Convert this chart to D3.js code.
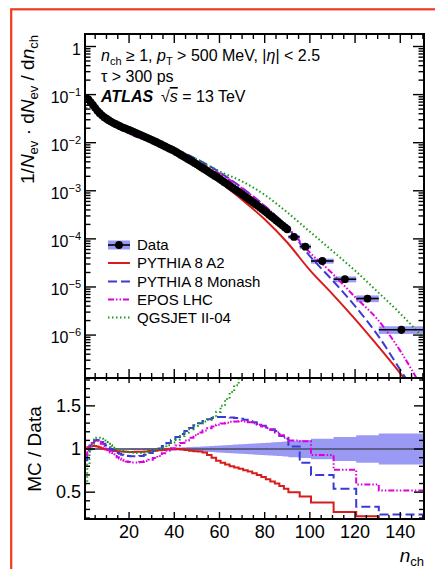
<!DOCTYPE html>
<html><head><meta charset="utf-8">
<script src="https://cdn.jsdelivr.net/npm/d3@7/dist/d3.min.js"></script>
<style>
html,body{margin:0;padding:0;background:#fff;}
svg{display:block;font-family:"Liberation Sans",Arial,Helvetica,sans-serif;}
text{white-space:pre;}
</style></head><body>
<svg id="chart" width="435" height="569"></svg>
<script>
// ---------------- data ----------------
// data binning: unit bins up to 90, then wide bins
const dataEdges = [0.5,1.5,2.5,3.5,4.5,5.5,6.5,7.5,8.5,9.5,10.5,11.5,12.5,13.5,14.5,15.5,16.5,17.5,18.5,19.5,20.5,
  21.5,22.5,23.5,24.5,25.5,26.5,27.5,28.5,29.5,30.5,31.5,32.5,33.5,34.5,35.5,36.5,37.5,38.5,39.5,40.5,
  41.5,42.5,43.5,44.5,45.5,46.5,47.5,48.5,49.5,50.5,51.5,52.5,53.5,54.5,55.5,56.5,57.5,58.5,59.5,60.5,
  61.5,62.5,63.5,64.5,65.5,66.5,67.5,68.5,69.5,70.5,71.5,72.5,73.5,74.5,75.5,76.5,77.5,78.5,79.5,80.5,
  81.5,82.5,83.5,84.5,85.5,86.5,87.5,88.5,89.5,90.5,95.5,100.5,110.5,120.5,130.5,150.5];
const dataValues = [0.085,0.079,0.070,0.061,0.053,0.046,0.041,0.037,0.034,0.0315,0.0293,0.0275,0.0259,0.0245,0.0232,0.0220,0.0209,0.0200,0.0192,0.0184,
  0.01755,0.01675,0.01597,0.01524,0.01454,0.01387,0.01323,0.01262,0.01204,0.01148,
  0.01089,0.01033,0.00980,0.00929,0.00881,0.00836,0.00793,0.00752,0.00713,0.00676,
  0.00634,0.00594,0.00557,0.00522,0.00490,0.00459,0.00431,0.00404,0.00378,0.00355,
  0.00331,0.00309,0.00288,0.00269,0.00251,0.00234,0.00219,0.00204,0.00191,0.00178,
  0.00165,0.00153,0.00143,0.00132,0.00123,0.00114,0.00106,9.86e-4,9.16e-4,8.51e-4,
  7.85e-4,7.24e-4,6.68e-4,6.17e-4,5.69e-4,5.25e-4,4.84e-4,4.47e-4,4.12e-4,3.80e-4,
  3.48e-4,3.19e-4,2.92e-4,2.68e-4,2.45e-4,2.25e-4,2.06e-4,1.89e-4,1.73e-4,1.585e-4,
  1.10e-4,6.9e-5,3.47e-5,1.45e-5,5.75e-6,1.29e-6];
const dataRelErr = [0.008,0.008,0.008,0.008,0.008,0.008,0.008,0.008,0.008,0.008,0.008,0.008,0.008,0.008,0.008,0.008,0.008,0.008,0.008,0.008,
  0.010,0.010,0.010,0.010,0.010,0.010,0.011,0.011,0.011,0.011,
  0.012,0.012,0.013,0.013,0.014,0.014,0.015,0.015,0.016,0.016,
  0.017,0.018,0.019,0.020,0.021,0.022,0.023,0.024,0.025,0.026,
  0.027,0.029,0.030,0.032,0.033,0.035,0.036,0.038,0.039,0.041,
  0.042,0.044,0.045,0.047,0.048,0.050,0.051,0.053,0.054,0.056,
  0.057,0.059,0.060,0.062,0.063,0.065,0.066,0.068,0.069,0.071,
  0.072,0.074,0.075,0.077,0.078,0.080,0.082,0.084,0.086,0.088,
  0.095,0.105,0.12,0.14,0.16,0.18];
// ratio binning (MC / Data histograms)
const ratioEdges = [0.5,1.5,2.5,3.5,4.5,5.5,6.5,7.5,8.5,9.5,10.5,11.5,12.5,13.5,14.5,15.5,16.5,17.5,18.5,19.5,20.5,
  22.5,24.5,26.5,28.5,30.5,32.5,34.5,36.5,38.5,40.5,42.5,44.5,46.5,48.5,50.5,52.5,54.5,56.5,58.5,60.5,
  62.5,64.5,66.5,68.5,70.5,72.5,74.5,76.5,78.5,80.5,82.5,84.5,86.5,88.5,90.5,95.5,100.5,110.5,120.5,130.5,150.5];
const ratioA2 = [1.00,1.02,1.03,1.035,1.035,1.03,1.02,1.01,1.00,0.995,0.99,0.985,0.98,0.977,0.975,0.972,0.97,0.968,0.967,0.966,
  0.966,0.967,0.969,0.972,0.976,0.98,0.985,0.99,0.995,0.998,1.0,0.998,0.99,0.98,0.975,
  0.97,0.96,0.93,0.90,0.865,0.84,0.82,0.80,0.785,0.77,0.755,0.74,0.72,0.70,0.675,
  0.65,0.625,0.60,0.57,0.54,0.50,0.45,0.38,0.27,0.22,0.19];
const ratioMonash = [0.87,0.97,1.04,1.08,1.10,1.105,1.10,1.08,1.06,1.04,1.02,1.00,0.985,0.97,0.955,0.945,0.935,0.928,0.922,0.918,
  0.915,0.915,0.92,0.935,0.955,0.98,1.005,1.035,1.07,1.105,1.14,1.175,1.21,1.245,1.275,
  1.30,1.325,1.345,1.36,1.37,1.37,1.37,1.365,1.36,1.35,1.34,1.325,1.31,1.29,1.27,
  1.25,1.23,1.21,1.15,1.12,1.03,0.84,0.70,0.54,0.33,0.24];
const ratioEPOS = [0.93,0.99,1.04,1.07,1.09,1.095,1.085,1.06,1.035,1.01,0.985,0.96,0.94,0.92,0.905,0.89,0.875,0.865,0.855,0.85,
  0.845,0.845,0.85,0.86,0.875,0.895,0.92,0.95,0.98,1.01,1.04,1.07,1.10,1.13,1.16,
  1.19,1.215,1.24,1.26,1.28,1.295,1.305,1.315,1.32,1.325,1.32,1.31,1.30,1.28,1.26,
  1.24,1.22,1.19,1.16,1.13,1.10,1.09,0.93,0.76,0.59,0.52];
const ratioQGSJET = [0.60,0.82,0.97,1.06,1.11,1.13,1.13,1.12,1.10,1.08,1.06,1.045,1.03,1.015,1.00,0.99,0.98,0.972,0.966,0.962,
  0.958,0.955,0.955,0.96,0.97,0.985,1.0,1.02,1.045,1.075,1.11,1.15,1.19,1.23,1.27,
  1.30,1.32,1.34,1.37,1.43,1.50,1.58,1.66,1.74,1.82,1.90,1.97,2.04,2.10,2.15,
  2.20,2.25,2.28,2.30,2.32,2.35,2.30,2.20,2.40,2.30,2.20];
// MC predictions in the main panel
const mcNch = [1,2,3,4,6,8,10,14,20,30,40,50,60,70,80,90,100,110,120,130,140,150];
const mcA2 = [0.0849,0.0807,0.0721,0.0631,0.0474,0.0373,0.0313,0.0239,0.0178,0.0112,6.75e-3,3.46e-3,1.53e-3,6.55e-4,2.55e-4,8.4e-5,2.24e-5,7.1e-6,2.14e-6,6.0e-7,1.6e-7,4e-8];
const mcMonash = [0.0738,0.0767,0.0728,0.0658,0.0508,0.0399,0.0327,0.0238,0.0169,0.0110,7.50e-3,4.54e-3,2.44e-3,1.15e-3,4.83e-4,1.74e-4,4.4e-5,1.38e-5,4.0e-6,1.0e-6,1.9e-7,3.5e-8];
const mcEPOS = [0.0789,0.0783,0.0728,0.0652,0.0504,0.0392,0.0318,0.0225,0.0156,0.0101,6.90e-3,4.15e-3,2.29e-3,1.13e-3,4.83e-4,1.77e-4,5.2e-5,1.9e-5,6.2e-6,2.1e-6,4.7e-7,7.4e-8];
const mcQGSJET = [0.0509,0.0649,0.0679,0.0646,0.0520,0.0414,0.0340,0.0248,0.0177,0.0112,7.29e-3,4.51e-3,2.54e-3,1.57e-3,8.24e-4,3.55e-4,1.41e-4,5.6e-5,2.19e-5,7.9e-6,2.8e-6,8.9e-7];
const xMajorTicks = [20,40,60,80,100,120,140];
const xMinorTicks = [5,10,15,25,30,35,45,50,55,65,70,75,85,90,95,105,110,115,125,130,135,145,150];
const ratioMajorTicks = [0.5,1,1.5];
const ratioMinorTicks = [0.2,0.3,0.4,0.6,0.7,0.8,0.9,1.1,1.2,1.3,1.4,1.6,1.7,1.8];
const yDecades = [0,-1,-2,-3,-4,-5,-6];
const legendLabels = ["Data","PYTHIA 8 A2","PYTHIA 8 Monash","EPOS LHC","QGSJET II-04"];

// ---------------- setup ----------------
const svg = d3.select("#chart");
const L=85, R=424, T=34, MB=378, RB=519;
const x = d3.scaleLinear().domain([0.5,150.5]).range([L,R]);
const y = d3.scaleLog().domain([1.28e-7,1.82]).range([MB,T]);
const yr = d3.scaleLinear().domain([0.189,1.823]).range([RB,MB]);

const COL = {band:"#9a9af5", a2:"#d81c1c", monash:"#3a3ad8", epos:"#dd00dd", qgs:"#1a9a1a"};
const STY = [
  {color:COL.a2, dash:null},
  {color:COL.monash, dash:"9,4"},
  {color:COL.epos, dash:"6,2,1.5,2,1.5,2"},
  {color:COL.qgs, dash:"1.5,2.5"}
];

svg.append("rect").attr("x",11.2).attr("y",9.3).attr("width",600).attr("height",700)
  .attr("fill","none").attr("stroke","#f23b1c").attr("stroke-width",2.2);

const defs = svg.append("defs");
defs.append("clipPath").attr("id","clipMain").append("rect").attr("x",L).attr("y",T).attr("width",R-L).attr("height",MB-T);
defs.append("clipPath").attr("id","clipRatio").append("rect").attr("x",L).attr("y",MB).attr("width",R-L).attr("height",RB-MB);

const bins = dataValues.map((v,i)=>({lo:dataEdges[i], hi:dataEdges[i+1], c:(dataEdges[i]+dataEdges[i+1])/2, v, e:dataRelErr[i]}));
const ratioSeries = [ratioA2, ratioMonash, ratioEPOS, ratioQGSJET];
const mcSeries = [mcA2, mcMonash, mcEPOS, mcQGSJET];

// ---------------- main panel ----------------
const gm = svg.append("g").attr("clip-path","url(#clipMain)");
gm.selectAll("rect.box").data(bins).join("rect").attr("class","box")
  .attr("x",d=>x(d.lo)).attr("width",d=>x(d.hi)-x(d.lo))
  .attr("y",d=>y(d.v*(1+d.e))).attr("height",d=>y(d.v*(1-d.e))-y(d.v*(1+d.e)))
  .attr("fill",COL.band);
const mcLine = d3.line().x(d=>x(d[0])).y(d=>y(d[1])).curve(d3.curveMonotoneX);
STY.forEach((s,k)=>{
  gm.append("path").datum(mcNch.map((n,i)=>[n,mcSeries[k][i]]))
    .attr("d",mcLine).attr("fill","none").attr("stroke",s.color).attr("stroke-width",2)
    .attr("stroke-dasharray",s.dash);
});
gm.selectAll("line.hbar").data(bins).join("line").attr("class","hbar")
  .attr("x1",d=>x(d.lo)).attr("x2",d=>x(d.hi)).attr("y1",d=>y(d.v)).attr("y2",d=>y(d.v))
  .attr("stroke","#000").attr("stroke-width",1.6);
gm.selectAll("line.vbar").data(bins).join("line").attr("class","vbar")
  .attr("x1",d=>x(d.c)).attr("x2",d=>x(d.c)).attr("y1",d=>y(d.v*(1+d.e))).attr("y2",d=>y(d.v*(1-d.e)))
  .attr("stroke","#000").attr("stroke-width",1.6);
gm.selectAll("circle.pt").data(bins).join("circle").attr("class","pt")
  .attr("cx",d=>x(d.c)).attr("cy",d=>y(d.v)).attr("r",3.9).attr("fill","#000");

// ---------------- ratio panel ----------------
const gr = svg.append("g").attr("clip-path","url(#clipRatio)");
const stepPts = arr => { const p = arr.map((v,i)=>[ratioEdges[i], v]); p.push([ratioEdges[arr.length], arr[arr.length-1]]); return p; };
const bandPts = bins.map(b=>[b.lo, b.e]); bandPts.push([bins[bins.length-1].hi, bins[bins.length-1].e]);
gr.append("path").datum(bandPts)
  .attr("d", d3.area().curve(d3.curveStepAfter).x(d=>x(d[0])).y0(d=>yr(1-d[1])).y1(d=>yr(1+d[1])))
  .attr("fill",COL.band);
gr.append("line").attr("x1",L).attr("x2",R).attr("y1",yr(1)).attr("y2",yr(1)).attr("stroke","#222").attr("stroke-width",1.2);
const stepLine = d3.line().curve(d3.curveStepAfter).x(d=>x(d[0])).y(d=>yr(d[1]));
STY.forEach((s,k)=>{
  gr.append("path").datum(stepPts(ratioSeries[k])).attr("d",stepLine)
    .attr("fill","none").attr("stroke",s.color).attr("stroke-width",2).attr("stroke-dasharray",s.dash);
});

// ---------------- frames & ticks ----------------
const ax = svg.append("g").attr("stroke","#000").attr("stroke-width",1.4);
function vt(xv, y0, len){ ax.append("line").attr("x1",xv).attr("x2",xv).attr("y1",y0).attr("y2",y0+len); }
function ht(yv, x0, len){ ax.append("line").attr("x1",x0).attr("x2",x0+len).attr("y1",yv).attr("y2",yv); }
xMajorTicks.forEach(v=>{ vt(x(v),MB,-9); vt(x(v),T,9); vt(x(v),MB,5); vt(x(v),RB,-7); });
xMinorTicks.forEach(v=>{ vt(x(v),MB,-5); vt(x(v),T,5); vt(x(v),MB,3); vt(x(v),RB,-4); });
for (let d=-7; d<=0; d++){
  for (let k=1; k<=9; k++){
    const v = k*Math.pow(10,d);
    if (v < y.domain()[0] || v > y.domain()[1]) continue;
    const len = k===1 ? 11 : 5.5;
    ht(y(v), L, len); ht(y(v), R, -len);
  }
}
ratioMajorTicks.forEach(v=>{ ht(yr(v),L,10); ht(yr(v),R,-10); });
ratioMinorTicks.forEach(v=>{ ht(yr(v),L,5); ht(yr(v),R,-5); });
svg.append("rect").attr("x",L).attr("y",T).attr("width",R-L).attr("height",MB-T).attr("fill","none").attr("stroke","#000").attr("stroke-width",2);
svg.append("rect").attr("x",L).attr("y",MB).attr("width",R-L).attr("height",RB-MB).attr("fill","none").attr("stroke","#000").attr("stroke-width",2);

// ---------------- text helpers ----------------
function rich(parent, x0, y0, parts, attrs){
  const t = parent.append("text").attr("x",x0).attr("y",y0);
  Object.entries(attrs||{}).forEach(([k,v])=>t.attr(k,v));
  let cur = 0;
  parts.forEach(p=>{
    const s = p.shift||0;
    const ts = t.append("tspan").text(p.t);
    if (s!==cur) ts.attr("dy", s-cur);
    cur = s;
    if (p.i) ts.attr("font-style","italic");
    if (p.b) ts.attr("font-weight","bold");
    if (p.fs) ts.attr("font-size",p.fs);
    if (p.style) ts.attr("style",p.style);
  });
  return t;
}

yDecades.forEach(d=>{
  const yy = y(Math.pow(10,d)) + 8;
  if (d===0) rich(svg, 81, yy, [{t:"1"}], {"text-anchor":"end","font-size":16});
  else rich(svg, 81, yy, [{t:"10"},{t:"\u2212"+(-d), fs:11, shift:-7}], {"text-anchor":"end","font-size":16});
});
ratioMajorTicks.forEach(v=>{
  svg.append("text").attr("x",81).attr("y",yr(v)+6).attr("text-anchor","end").attr("font-size",18).text(String(v));
});
xMajorTicks.forEach(v=>{
  svg.append("text").attr("x",x(v)).attr("y",538).attr("text-anchor","middle").attr("font-size",18).text(String(v));
});

const gy = svg.append("g").attr("transform","translate(34,35) rotate(-90)");
rich(gy, 0, 0, [{t:"1/"},{t:"N",i:true},{t:"ev",fs:13,shift:4},{t:" \u00b7 d"},{t:"N",i:true},{t:"ev",fs:13,shift:4},
  {t:" / d"},{t:"n",i:true},{t:"ch",fs:13,shift:4}], {"text-anchor":"end","font-size":19});
const gy2 = svg.append("g").attr("transform","translate(41,449) rotate(-90)");
gy2.append("text").attr("text-anchor","middle").attr("font-size",19).text("MC / Data");
rich(svg, 424, 562, [{t:"n",i:true},{t:"ch",fs:13,shift:4}], {"text-anchor":"end","font-size":19});

rich(svg, 101, 61, [{t:"n",i:true},{t:"ch",fs:11,shift:4},{t:" \u2265 1, "},{t:"p",i:true},{t:"T",fs:11,shift:4},
  {t:" > 500 MeV, |"},{t:"\u03b7",i:true},{t:"| < 2.5"}], {"font-size":16});
rich(svg, 101, 82, [{t:"\u03c4 > 300 ps"}], {"font-size":16});
rich(svg, 101, 102, [{t:"ATLAS",i:true,b:true}], {"font-size":16});
rich(svg, 161, 102, [{t:"\u221a"},{t:"s",i:true,style:"text-decoration:overline"},{t:" = 13 TeV"}], {"font-size":16});

const lg = svg.append("g");
const legY = [245, 263, 281.5, 299.5, 317.5];
lg.append("rect").attr("x",108).attr("y",legY[0]-4.5).attr("width",22).attr("height",9).attr("fill",COL.band);
lg.append("line").attr("x1",108).attr("x2",130).attr("y1",legY[0]).attr("y2",legY[0]).attr("stroke","#000").attr("stroke-width",1.6);
lg.append("circle").attr("cx",119).attr("cy",legY[0]).attr("r",3.9).attr("fill","#000");
STY.forEach((s,k)=>{
  lg.append("line").attr("x1",108).attr("x2",130).attr("y1",legY[k+1]).attr("y2",legY[k+1])
    .attr("stroke",s.color).attr("stroke-width",2).attr("stroke-dasharray",s.dash);
});
legendLabels.forEach((t,i)=>{
  lg.append("text").attr("x",137).attr("y",legY[i]+5.3).attr("font-size",15).text(t);
});
</script>
</body></html>
